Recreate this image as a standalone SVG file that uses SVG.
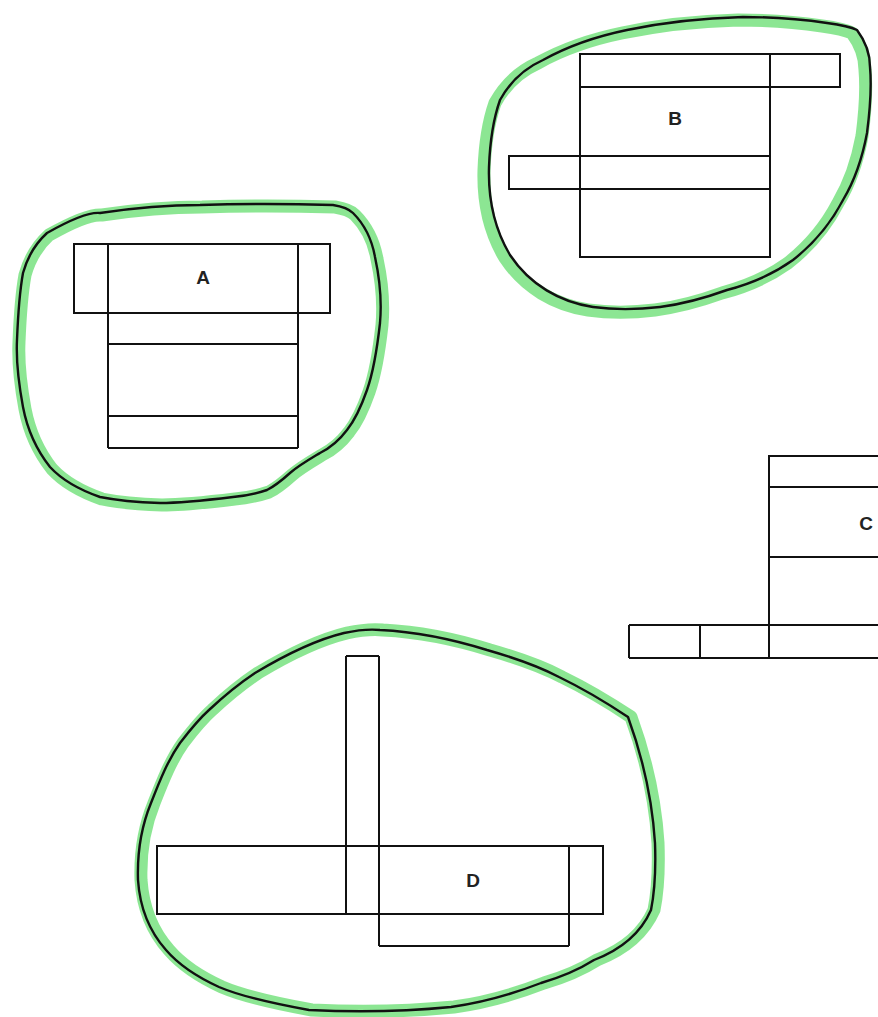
<svg xmlns="http://www.w3.org/2000/svg" width="878" height="1017" viewBox="0 0 878 1017">
<style>
.bx{fill:none;stroke:#111;stroke-width:2}
.hl{fill:none;stroke:#7fe387;stroke-width:13;stroke-linejoin:round;opacity:0.9}
.ln{fill:none;stroke:#111;stroke-width:2.4;stroke-linejoin:round}
.lb{font-family:"Liberation Sans",Arial,sans-serif;font-size:19px;font-weight:bold;fill:#222;text-anchor:middle}
</style>
<rect width="878" height="1017" fill="#fff"/>
<g id="loops">
<path id="loopA-hl" class="hl" d="M47,233 C70,220 90,212 100,213 C140,207 170,205 200,205 C260,203 300,204 333,205 C345,207 350,210 353,213 C365,225 372,240 375,257 C380,280 382,300 380,323 C377,350 374,370 367,390 C360,410 355,420 347,430 C338,442 330,448 320,453 C305,462 298,466 290,473 C280,482 275,486 267,490 C255,494 245,496 233,497 C200,501 180,503 160,503 C130,502 115,500 100,497 C80,490 62,480 50,467 C35,448 27,428 23,407 C18,380 16,360 17,340 C18,315 19,295 23,273 C28,255 36,243 47,233 Z" transform="translate(2,2)"/>
<path id="loopA" class="ln" d="M47,233 C70,220 90,212 100,213 C140,207 170,205 200,205 C260,203 300,204 333,205 C345,207 350,210 353,213 C365,225 372,240 375,257 C380,280 382,300 380,323 C377,350 374,370 367,390 C360,410 355,420 347,430 C338,442 330,448 320,453 C305,462 298,466 290,473 C280,482 275,486 267,490 C255,494 245,496 233,497 C200,501 180,503 160,503 C130,502 115,500 100,497 C80,490 62,480 50,467 C35,448 27,428 23,407 C18,380 16,360 17,340 C18,315 19,295 23,273 C28,255 36,243 47,233 Z"/>
<path id="loopB-hl" class="hl" d="M857,30 C866,42 870,55 870,67 C872,90 870,110 867,133 C862,160 855,180 843,200 C830,225 812,245 793,260 C772,275 750,284 727,290 C705,298 683,304 660,307 C635,310 615,310 593,307 C560,302 530,285 510,255 C495,230 488,200 489,167 C490,140 493,120 500,100 C510,82 525,68 543,60 C570,45 598,36 627,30 C665,22 705,18 743,17 C775,17 800,19 827,23 C842,25 851,27 857,30 Z" transform="translate(-5,3)"/>
<path id="loopB" class="ln" d="M857,30 C866,42 870,55 870,67 C872,90 870,110 867,133 C862,160 855,180 843,200 C830,225 812,245 793,260 C772,275 750,284 727,290 C705,298 683,304 660,307 C635,310 615,310 593,307 C560,302 530,285 510,255 C495,230 488,200 489,167 C490,140 493,120 500,100 C510,82 525,68 543,60 C570,45 598,36 627,30 C665,22 705,18 743,17 C775,17 800,19 827,23 C842,25 851,27 857,30 Z"/>
<path id="loopD-hl" class="hl" d="M380,630 C420,632 455,640 487,650 C515,658 540,667 559,677 C590,692 610,705 628,717 C640,750 652,795 655,843 C656,870 655,890 651,910 C640,935 620,950 594,960 C575,972 558,978 541,983 C510,995 480,1003 451,1007 C400,1012 350,1012 309,1010 C270,1003 240,996 219,987 C195,976 178,964 166,950 C150,932 140,910 138,880 C137,850 142,825 151,803 C160,780 168,760 180,743 C190,730 200,718 209,710 C225,695 240,683 255,673 C285,655 315,640 344,633 C358,630 370,629 380,630 Z" transform="translate(3,0)"/>
<path id="loopD" class="ln" d="M380,630 C420,632 455,640 487,650 C515,658 540,667 559,677 C590,692 610,705 628,717 C640,750 652,795 655,843 C656,870 655,890 651,910 C640,935 620,950 594,960 C575,972 558,978 541,983 C510,995 480,1003 451,1007 C400,1012 350,1012 309,1010 C270,1003 240,996 219,987 C195,976 178,964 166,950 C150,932 140,910 138,880 C137,850 142,825 151,803 C160,780 168,760 180,743 C190,730 200,718 209,710 C225,695 240,683 255,673 C285,655 315,640 344,633 C358,630 370,629 380,630 Z"/>
</g>
<g id="nodeA">
<rect class="bx" x="74" y="244" width="256" height="69"/>
<line class="bx" x1="108" y1="244" x2="108" y2="448"/>
<line class="bx" x1="298" y1="244" x2="298" y2="448"/>
<line class="bx" x1="108" y1="344" x2="298" y2="344"/>
<line class="bx" x1="108" y1="416" x2="298" y2="416"/>
<line class="bx" x1="108" y1="448" x2="298" y2="448"/>
<text class="lb" x="203" y="284">A</text>
</g>
<g id="nodeB">
<rect class="bx" x="580" y="54" width="260" height="33"/>
<rect class="bx" x="580" y="54" width="190" height="203"/>
<rect class="bx" x="509" y="156" width="261" height="33"/>
<line class="bx" x1="580" y1="156" x2="580" y2="189"/>
<text class="lb" x="675" y="125">B</text>
</g>
<g id="nodeC">
<rect class="bx" x="769" y="456" width="140" height="202"/>
<line class="bx" x1="769" y1="487" x2="878" y2="487"/>
<line class="bx" x1="769" y1="557" x2="878" y2="557"/>
<line class="bx" x1="629" y1="625" x2="878" y2="625"/>
<line class="bx" x1="629" y1="658" x2="878" y2="658"/>
<line class="bx" x1="629" y1="625" x2="629" y2="658"/>
<line class="bx" x1="700" y1="625" x2="700" y2="658"/>
<text class="lb" x="866" y="530">C</text>
</g>
<g id="nodeD">
<rect class="bx" x="157" y="846" width="446" height="68"/>
<line class="bx" x1="346" y1="656" x2="346" y2="914"/>
<line class="bx" x1="379" y1="656" x2="379" y2="946"/>
<line class="bx" x1="346" y1="656" x2="379" y2="656"/>
<line class="bx" x1="569" y1="846" x2="569" y2="946"/>
<line class="bx" x1="379" y1="946" x2="569" y2="946"/>
<text class="lb" x="473" y="887">D</text>
</g>
<g id="connectors"/>
</svg>
